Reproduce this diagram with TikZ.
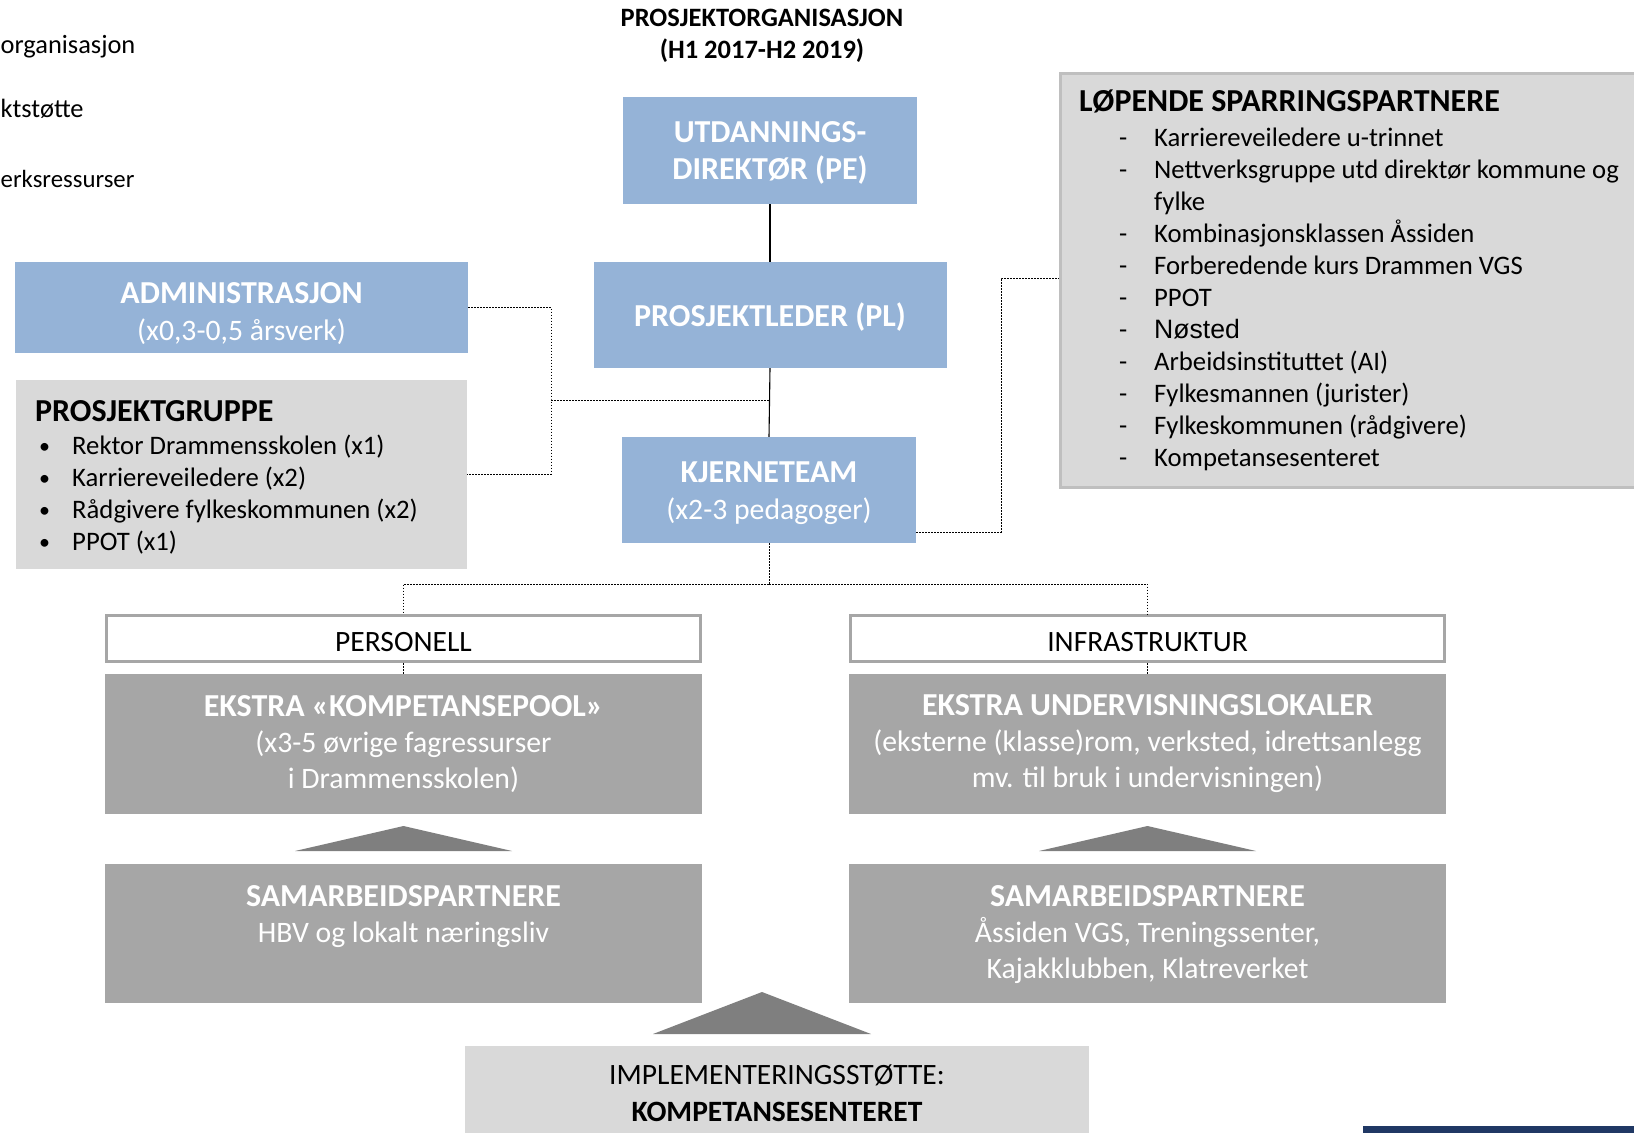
\documentclass[tikz,border=0pt]{standalone}
\usepackage{fontspec}
\setmainfont{Carlito}
\newfontfamily\arialfont{Liberation Sans}
\definecolor{blueC}{RGB}{149,179,215}
\definecolor{lgray}{RGB}{217,217,217}
\definecolor{lgrayB}{RGB}{191,191,191}
\definecolor{mgray}{RGB}{166,166,166}
\definecolor{dgray}{RGB}{127,127,127}
\definecolor{navyC}{RGB}{32,56,100}
\newcommand\dashitem[1]{\hspace*{40pt}\makebox[35pt][l]{-}#1}
\newcommand\dashcont[1]{\hspace*{75pt}#1}
\newcommand\bulitem[1]{\hspace*{4pt}\makebox[33pt][l]{\raisebox{1pt}{\fontsize{22}{22}\selectfont\textbullet}}#1}
\newcommand\bt[1]{{\fontsize{32}{37}\selectfont\bfseries #1}}
\begin{document}
\begin{tikzpicture}[x=1pt,y=-1pt,
  bluebox/.style={fill=blueC,inner sep=0pt},
  bluetext/.style={text=white,inner sep=0pt,align=center,font=\fontsize{29.7}{37}\selectfont},
  graybox/.style={fill=mgray,inner sep=0pt},
  graytext/.style={text=white,inner sep=0pt,align=center,font=\fontsize{29.7}{36}\selectfont},
  lightbox/.style={fill=lgray,inner sep=0pt},
  headbox/.style={fill=white,draw=mgray,line width=3.5pt,inner sep=0pt},
  headtext/.style={inner sep=0pt,font=\fontsize{29.5}{30}\selectfont},
  listtext/.style={inner sep=0pt,align=left,font=\fontsize{26.7}{32}\selectfont},
  plain/.style={inner sep=0pt,font=\fontsize{26.4}{30}\selectfont},
  solidline/.style={draw=black,line width=1.1pt},
  dotline/.style={draw=black,line width=1pt,dash pattern=on 1.6pt off 1.4pt},
  tri/.style={fill=dgray}]
\useasboundingbox (0,0) rectangle (1634,1133);
\clip (0,0) rectangle (1634,1133);

% left fragments
\node[plain,anchor=west] (f1) at (0.5,47) {organisasjon};
\node[plain,anchor=west] (f2) at (0.5,109) {ktstøtte};
\node[plain,anchor=west,font=\fontsize{24.8}{30}\selectfont] (f3) at (0.5,179) {erksressurser};

% title
\node[inner sep=0pt,align=center,font=\bfseries\fontsize{26.5}{31.5}\selectfont] (title) at (762,36) {PROSJEKTORGANISASJON\\(H1 2017-H2 2019)};

% blue boxes
\node[bluebox,minimum width=294pt,minimum height=107pt] (utd) at (770,150.5) {};
\node[bluetext] (utdt) at ([yshift=-2pt]utd.center) {\bt{UTDANNINGS-}\\\bt{DIREKTØR (PE)}};
\node[bluebox,minimum width=353pt,minimum height=106pt] (pl) at (770,315) {};
\node[bluetext] (plt) at ([yshift=-2pt]pl.center) {\bt{PROSJEKTLEDER (PL)}};
\node[bluebox,minimum width=294pt,minimum height=106pt] (kj) at (769,490) {};
\node[bluetext] (kjt) at ([yshift=-3pt]kj.center) {\bt{KJERNETEAM}\\(x2-3 pedagoger)};
\node[bluebox,minimum width=453pt,minimum height=91pt] (adm) at (241.5,307.5) {};
\node[bluetext] (admt) at ([yshift=-6pt]adm.center) {\bt{ADMINISTRASJON}\\(x0,3-0,5 årsverk)};

% prosjektgruppe
\node[lightbox,minimum width=451pt,minimum height=189pt] (pg) at (241.5,474.5) {};
\node[listtext,anchor=north west] (pgt) at (35,400) {{\bfseries\fontsize{32}{32}\selectfont PROSJEKTGRUPPE}\\[1pt]
\bulitem{Rektor Drammensskolen (x1)}\\
\bulitem{Karriereveiledere (x2)}\\
\bulitem{Rådgivere fylkeskommunen (x2)}\\
\bulitem{PPOT (x1)}};

% løpende
\node[lightbox,draw=lgrayB,line width=2.5pt,minimum width=620pt,minimum height=414pt,anchor=north west] (lop) at (1059,72) {};
\node[listtext,anchor=north west] (lopt) at (1079,90) {{\bfseries\fontsize{32}{32}\selectfont LØPENDE SPARRINGSPARTNERE}\\[3pt]
\dashitem{Karriereveiledere u-trinnet}\\
\dashitem{Nettverksgruppe utd direktør kommune og}\\
\dashcont{fylke}\\
\dashitem{Kombinasjonsklassen Åssiden}\\
\dashitem{Forberedende kurs Drammen VGS}\\
\dashitem{PPOT}\\
\dashitem{{\arialfont\fontsize{26.6}{32}\selectfont Nøsted}}\\
\dashitem{Arbeidsinstituttet (AI)}\\
\dashitem{Fylkesmannen (jurister)}\\
\dashitem{Fylkeskommunen (rådgivere)}\\
\dashitem{Kompetansesenteret}};

% lower part
\node[headbox,minimum width=594pt,minimum height=46pt] (pers) at (403.5,638.5) {};
\node[headtext] (perst) at ([yshift=-4pt]pers.center) {PERSONELL};
\node[headbox,minimum width=594pt,minimum height=46pt] (infra) at (1147.5,638.5) {};
\node[headtext] (infrat) at ([yshift=-4pt]infra.center) {INFRASTRUKTUR};
\node[graybox,minimum width=597pt,minimum height=140pt] (ekp) at (403.5,744) {};
\node[graytext] (ekpt) at (ekp.center) {\bt{EKSTRA «KOMPETANSEPOOL»}\\(x3-5 øvrige fagressurser\\i Drammensskolen)};
\node[graybox,minimum width=597pt,minimum height=140pt] (eku) at (1147.5,744) {};
\node[graytext] (ekut) at (eku.center) {\bt{EKSTRA UNDERVISNINGSLOKALER}\\(eksterne (klasse)rom, verksted, idrettsanlegg\\mv. til bruk i undervisningen)};
\node[graybox,minimum width=597pt,minimum height=139pt] (sam1) at (403.5,933.5) {};
\node[graybox,minimum width=597pt,minimum height=139pt] (sam2) at (1147.5,933.5) {};
\node[graytext,anchor=north] (sam1t) at (403.5,885) {\bt{SAMARBEIDSPARTNERE}\\HBV og lokalt næringsliv};
\node[graytext,anchor=north] (sam2t) at (1147.5,885) {\bt{SAMARBEIDSPARTNERE}\\Åssiden VGS, Treningssenter,\\Kajakklubben, Klatreverket};
\node[lightbox,minimum width=624pt,minimum height=100pt,anchor=north] (impl) at (777,1046) {};
\node[inner sep=0pt,align=center,font=\fontsize{29.5}{37}\selectfont] (implt) at (777,1093.5) {IMPLEMENTERINGSSTØTTE:\\\textbf{KOMPETANSESENTERET}};

% triangles
\fill[tri] (295,851) -- (403.5,826) -- (512,851) -- cycle;
\fill[tri] (1039,851) -- (1147.5,826) -- (1256,851) -- cycle;
\fill[tri] (653,1034) -- (762,992) -- (871,1034) -- cycle;

% navy strip
\fill[navyC] (1363,1126) rectangle (1640,1140);

% connectors
\coordinate (j1) at (551,400);
\coordinate (j2) at (1001,278);
\coordinate (j3) at (769,584);
\draw[solidline] (utd.south) -- (pl.north);
\draw[solidline] (pl.south) -- (kj.north);
\draw[dotline] (adm.east) -| (j1) |- (pg.east);
\draw[dotline] (j1) -- (j1 -| kj.north);
\draw[dotline] ([yshift=11pt]kj.south east) -| (j2) -- (j2 -| lop.west);
\draw[dotline] (kj.south) -- (j3);
\draw[dotline] (j3) -| (pers.north);
\draw[dotline] (j3) -| (infra.north);
\draw[dotline] (pers.south) -- (ekp.north);
\draw[dotline] (infra.south) -- (eku.north);
\end{tikzpicture}
\end{document}
